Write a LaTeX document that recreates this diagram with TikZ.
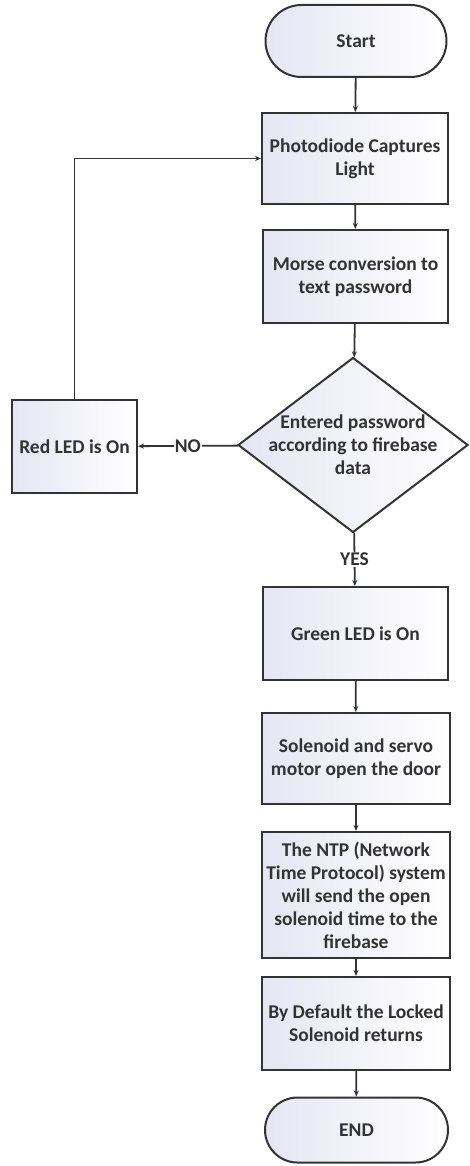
\documentclass[tikz,border=0pt]{standalone}
\usepackage{fontspec}
\setmainfont{Carlito}
\usetikzlibrary{shapes.geometric,shapes.misc,arrows.meta}

\definecolor{ink}{HTML}{333333}
\definecolor{lav}{HTML}{E6E6F4}

\begin{document}
\begin{tikzpicture}[x=1pt, y=-1pt,
	every node/.style={font=\fontsize{19.5}{23}\selectfont\bfseries, text=ink},
	box/.style={draw=ink, line width=2pt, rectangle, left color=lav, right color=white, align=center, inner sep=2pt},
	term/.style={box, rounded rectangle},
	decision/.style={box, diamond, aspect=1.31, inner sep=-4pt},
	flow/.style={draw=ink, line width=1.8pt, -{Stealth[length=6pt,width=5pt]}},
	tag/.style={fill=white, inner sep=1pt}]
	
	\useasboundingbox (0,0) rectangle (470,1166);
	
	\node[term, minimum width=185, minimum height=72] (start) at (356,41) {Start};
	\node[box, minimum width=186, minimum height=91] (photo) at (355,158.5) {Photodiode Captures\\Light};
	\node[box, minimum width=185, minimum height=93] (morse) at (355.5,276.5) {Morse conversion to\\text password};
	\node[decision, minimum width=230, minimum height=175] (check) at (353,445) {Entered password\\according to firebase\\data};
	\node[box, minimum width=125, minimum height=93] (red) at (74.5,446.5) {Red LED is On};
	\node[box, minimum width=185, minimum height=93] (green) at (355.5,633.5) {Green LED is On};
	\node[box, minimum width=188, minimum height=91] (servo) at (356,758.5) {Solenoid and servo\\motor open the door};
	\node[box, minimum width=188, minimum height=126] (ntp) at (356,895) {The NTP (Network\\Time Protocol) system\\will send the open\\solenoid time to the\\firebase};
	\node[box, minimum width=188, minimum height=93] (lock) at (356,1023.5) {By Default the Locked\\Solenoid returns};
	\node[term, minimum width=187, minimum height=65] (stop) at (356.5,1130) {END};
	
	% main path
	\draw[flow] (start) -- (photo);
	\draw[flow] (photo) -- (morse);
	\draw[flow] (morse) -- (check);
	\draw[flow] (check) -- node[tag] (yes) {YES} (green);
	\draw[flow] (green) -- (servo);
	\draw[flow] (servo) -- (ntp);
	\draw[flow] (ntp) -- (lock);
	\draw[flow] (lock) -- (stop);
	
	% wrong password loop
	\draw[flow] (check) -- node[tag] (no) {NO} (red);
	\draw[flow] (red.north) |- (photo.west);
	
\end{tikzpicture}
\end{document}
